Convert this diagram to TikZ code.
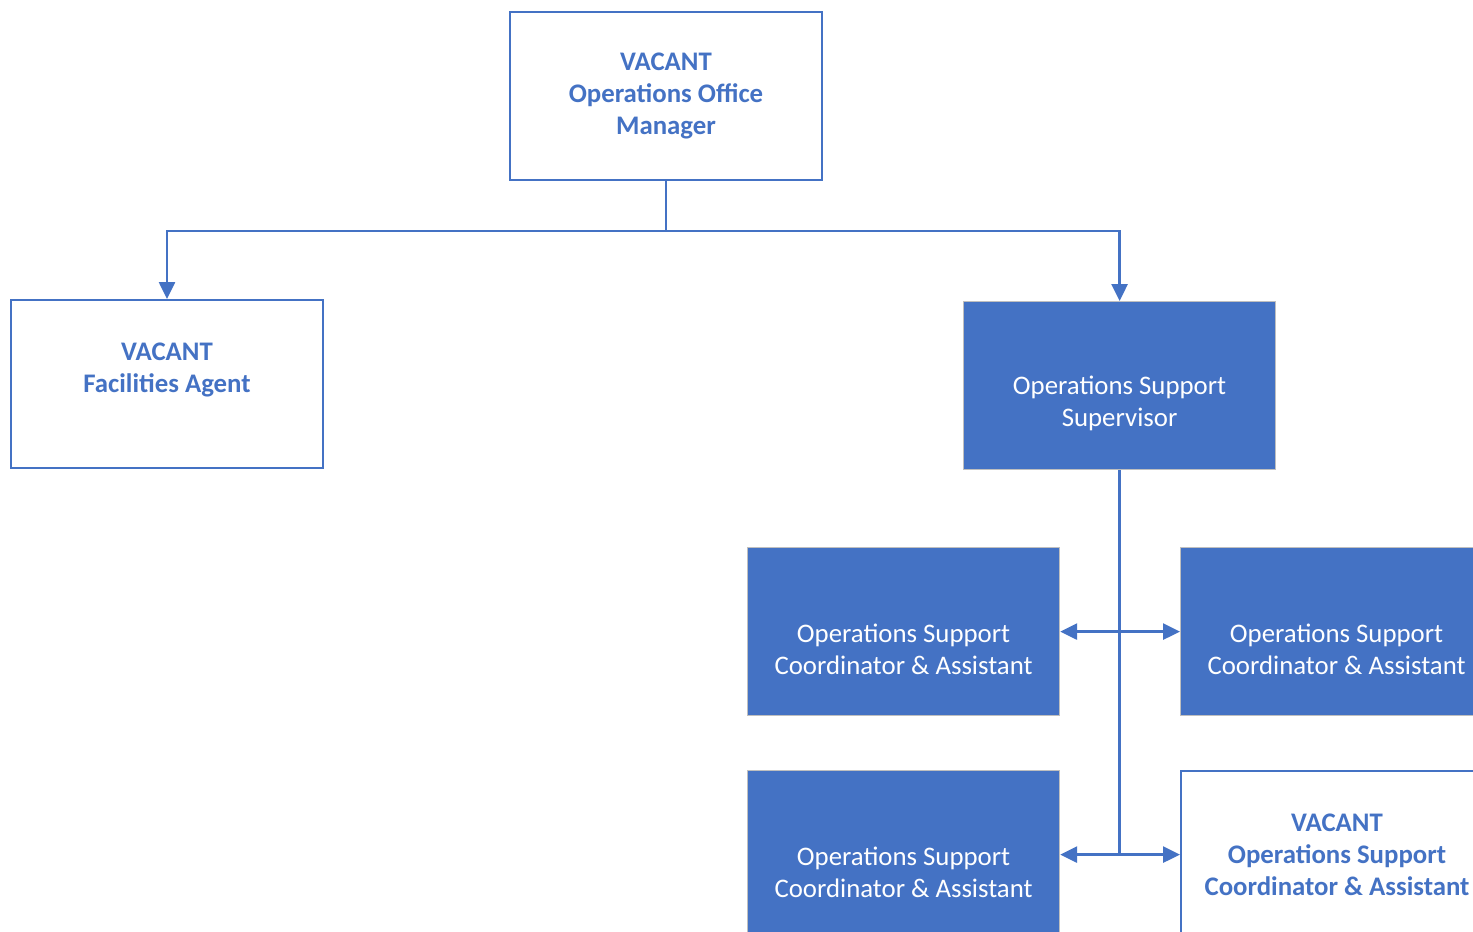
\documentclass[tikz,border=0pt]{standalone}
\usepackage{fontspec}
\setmainfont{Carlito}
\usetikzlibrary{arrows.meta}
\definecolor{obl}{HTML}{4472C4}
\definecolor{ogr}{HTML}{BFBFBF}
\tikzset{
  base/.style={rectangle, anchor=north west, inner sep=0pt, minimum width=156pt, minimum height=84pt, align=center, font=\fontsize{13.4}{16}\selectfont},
  openbox/.style={base, draw=obl, line width=1pt, fill=white, text=obl, font=\fontsize{13.4}{16}\selectfont\bfseries},
  solidbox/.style={base, draw=ogr, line width=0.6pt, fill=obl, text=white},
  conn/.style={draw=obl, line width=1.3pt},
  arr/.style={conn, -{Triangle[length=8.5pt, width=8pt]}}
}
\begin{document}
\begin{tikzpicture}[x=0.5pt, y=-0.5pt]
\path[use as bounding box, clip] (0,0) rectangle (1473,932);
\fill[white] (0,0) rectangle (1473,932);
\node[openbox] (top) at (509,11) {VACANT\\Operations Office\\Manager};
\node[openbox] (fac) at (10,299) {VACANT\\Facilities Agent\\\mbox{}};
\node[solidbox] (sup) at (963,301) {\strut\\Operations Support\\Supervisor};
\node[solidbox] (ca) at (747,547) {\strut\\Operations Support\\Coordinator \& Assistant};
\node[solidbox] (cb) at (1180,547) {\strut\\Operations Support\\Coordinator \& Assistant};
\node[solidbox] (cc) at (747,770) {\strut\\Operations Support\\Coordinator \& Assistant};
\node[openbox] (cd) at (1180,770) {VACANT\\Operations Support\\Coordinator \& Assistant};
\coordinate (j) at (top.south |- 0,231);
\coordinate (m1) at (sup.south |- ca.east);
\coordinate (m2) at (sup.south |- cc.east);
\draw[conn] (top.south) -- (j);
\draw[arr] (j) -| (fac.north);
\draw[arr] (j) -| (sup.north);
\draw[conn] (sup.south) -- (m2);
\draw[arr] (m1) -- (ca.east);
\draw[arr] (m1) -- (m1 -| cb.west);
\draw[arr] (m2) -- (cc.east);
\draw[arr] (m2) -- (m2 -| cd.west);
\end{tikzpicture}
\end{document}
